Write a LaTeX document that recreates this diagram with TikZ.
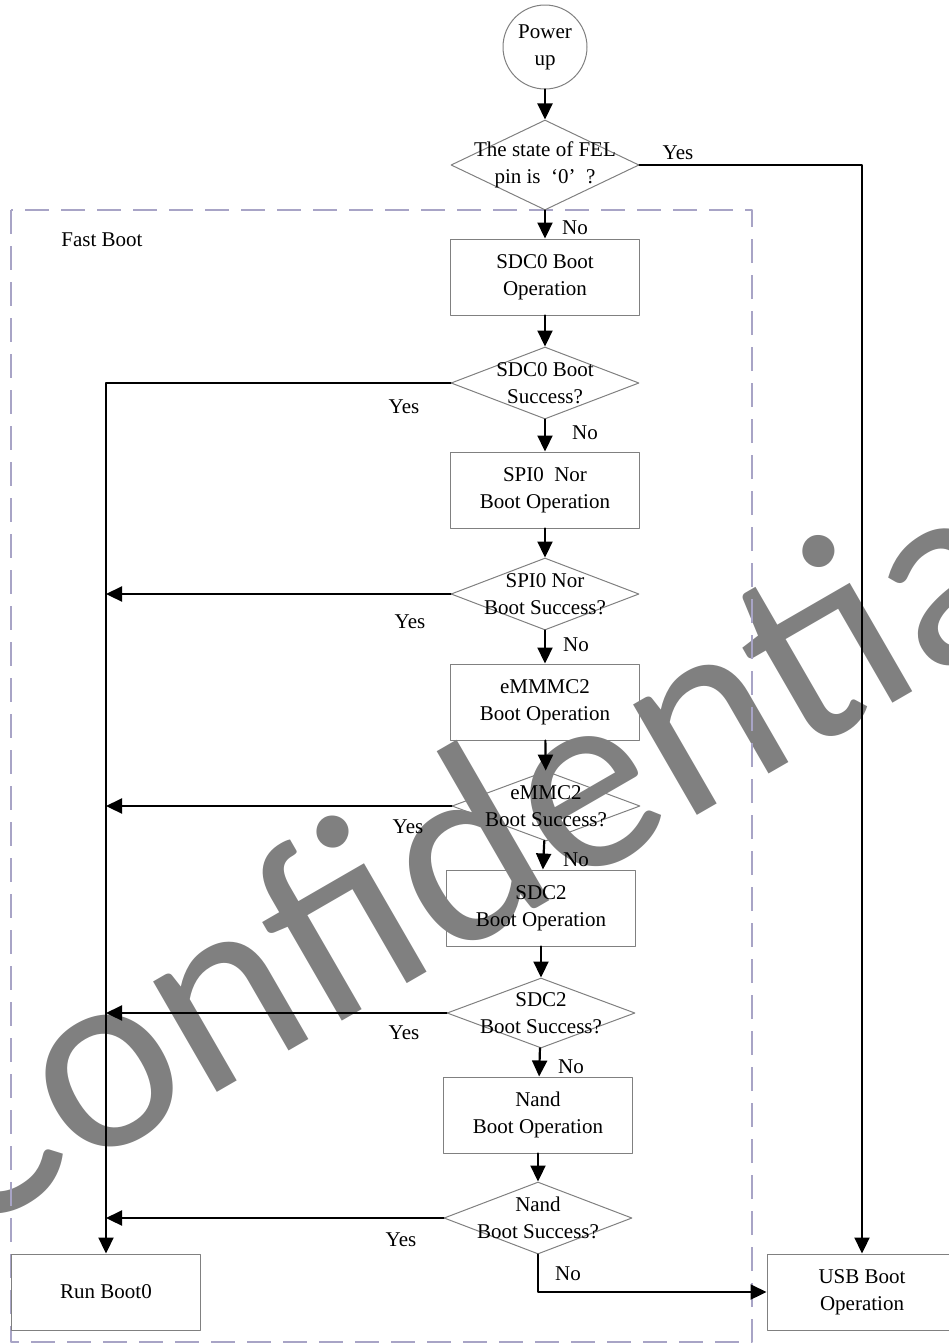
\documentclass[tikz,border=0pt]{standalone}
\usepackage{fontspec}
\setmainfont{Liberation Serif}
\newfontfamily\wmfont{Carlito}
\usepackage{tikz}
\usetikzlibrary{arrows.meta}
\usetikzlibrary{shapes.geometric}
\definecolor{fence}{RGB}{168,164,198}
\definecolor{edge}{RGB}{128,128,128}

\begin{document}
\begin{tikzpicture}[line cap=round,line join=round,>={Triangle[length=8pt,width=7.5pt]},x=0.5pt,y=-0.5pt,
    font=\fontsize{10.5}{13.5}\selectfont,
    op/.style={rectangle, draw=edge, line width=0.5pt, minimum width=94.5pt, minimum height=38pt, align=center, inner sep=0pt},
    ask/.style={diamond, draw=edge, line width=0.5pt, minimum width=94pt, minimum height=36pt, inner sep=0pt},
    flow/.style={->, line width=1.1pt}]
                    \useasboundingbox (0,0) rectangle (948,1344);

                    \node[text=edge, font=\wmfont\fontsize{133.5}{133.5}\selectfont, rotate=30, anchor=base, inner sep=0pt] (wm) at (525,915) {Confidential};

                    \draw[fence, line width=0.8pt, dash pattern=on 12pt off 6pt, line cap=butt] (11,210) rectangle (752,1342);
                    \node (fb) at (102,240) {Fast Boot};

                    \node[circle, draw=edge, line width=0.5pt, minimum size=42pt, inner sep=0pt, align=center] (pu) at (545,47) {Power\\up};
                    \node[ask, minimum height=45pt, label={[align=center]center:The state of FEL\\pin is\ \ ‘0’\ \ ?}] (q0) at (545,165) {};

                    \node[op] (b1) at (545,277) {SDC0 Boot\\Operation};
                    \node[ask, label={[align=center]center:SDC0 Boot\\Success?}] (q1) at (545,383) {};
                    \node[op] (b2) at (545,490) {SPI0\ \ Nor\\Boot Operation};
                    \node[ask, label={[align=center]center:SPI0 Nor\\Boot Success?}] (q2) at (545,594) {};
                    \node[op] (b3) at (545,702) {eMMMC2\\Boot Operation};
                    \node[ask, minimum height=35pt, label={[align=center]center:eMMC2\\Boot Success?}] (q3) at (546,806) {};
                    \node[op] (b4) at (541,908) {SDC2\\Boot Operation};
                    \node[ask, minimum height=35pt, label={[align=center]center:SDC2\\Boot Success?}] (q4) at (541,1013) {};
                    \node[op] (b5) at (538,1115) {Nand\\Boot Operation};
                    \node[ask, label={[align=center]center:Nand\\Boot Success?}] (q5) at (538,1218) {};

                    \node[op] (run) at (106,1292) {Run Boot0};
                    \node[op, minimum width=95pt] (usb) at (862,1292) {USB Boot\\Operation};

                    \draw[flow] (pu) -- (q0);
                    \draw[flow] (q0) -- (b1);
                    \draw[flow] (b1) -- (q1);
                    \draw[flow] (q1) -- (b2);
                    \draw[flow] (b2) -- (q2);
                    \draw[flow] (q2) -- (b3);
                    \draw[flow] (b3) -- (q3);
                    \draw[flow] (q3) -- (b4);
                    \draw[flow] (b4) -- (q4);
                    \draw[flow] (q4) -- (b5);
                    \draw[flow] (b5) -- (q5);

                    \draw[flow] (q0.east) -| (usb.north);
                    \draw[flow] (q1.west) -| (run.north);
                    \draw[flow] (q2.west) -- (q2.west -| run.north);
                    \draw[flow] (q3.west) -- (q3.west -| run.north);
                    \draw[flow] (q4.west) -- (q4.west -| run.north);
                    \draw[flow] (q5.west) -- (q5.west -| run.north);
                    \draw[flow] (q5.south) |- (usb.west);

                    \node (y0) at (678,153) {Yes};
                    \node (n0) at (575,228) {No};
                    \node (y1) at (404,407) {Yes};
                    \node (n1) at (585,433) {No};
                    \node (y2) at (410,622) {Yes};
                    \node (n2) at (576,645) {No};
                    \node (y3) at (408,827) {Yes};
                    \node (n3) at (576,860) {No};
                    \node (y4) at (404,1033) {Yes};
                    \node (n4) at (571,1067) {No};
                    \node (y5) at (401,1240) {Yes};
                    \node (n5) at (568,1274) {No};
                \end{tikzpicture}
\end{document}
